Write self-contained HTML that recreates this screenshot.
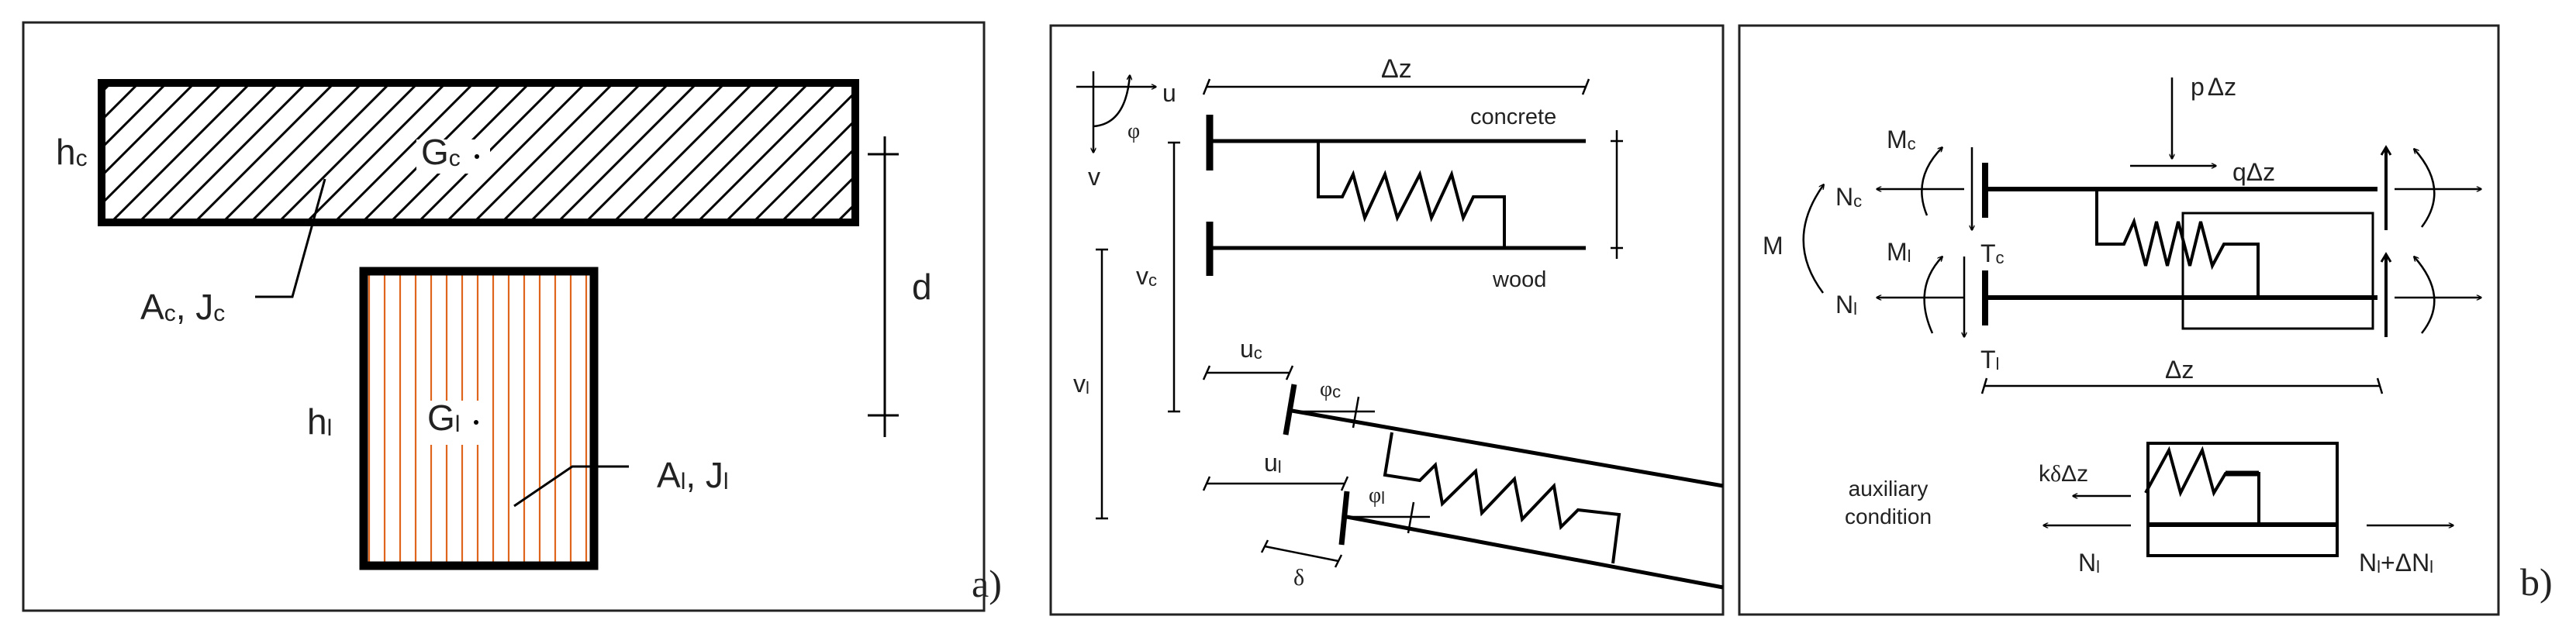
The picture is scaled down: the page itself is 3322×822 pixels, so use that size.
<!DOCTYPE html>
<html><head><meta charset="utf-8"><style>
html,body{margin:0;padding:0;background:#fff;}
svg{display:block;}
text{font-family:"Liberation Sans",sans-serif;fill:#222;}
.s{font-family:"Liberation Serif",serif;}
</style></head><body>
<svg width="3322" height="822" viewBox="0 0 3322 822" xmlns="http://www.w3.org/2000/svg">
<defs>
<marker id="ah" viewBox="0 0 10 10" refX="9" refY="5" markerWidth="7" markerHeight="7" markerUnits="userSpaceOnUse" orient="auto"><path d="M0,0 L10,5 L0,10" fill="none" stroke="#000" stroke-width="2"/></marker>
<clipPath id="cc"><rect x="136" y="112" width="962" height="170"/></clipPath>
<clipPath id="cw"><rect x="469" y="350" width="297" height="380"/></clipPath>
</defs>

<!-- Panel 1 -->
<rect x="30" y="29" width="1239" height="759" fill="none" stroke="#222" stroke-width="3"/>
<g clip-path="url(#cc)" stroke="#000" stroke-width="3" fill="none">
<path d="M-60,310 L140,110 M-24,310 L176,110 M12,310 L212,110 M48,310 L248,110 M84,310 L284,110 M120,310 L320,110 M156,310 L356,110 M192,310 L392,110 M228,310 L428,110 M264,310 L464,110 M300,310 L500,110 M336,310 L536,110 M372,310 L572,110 M408,310 L608,110 M444,310 L644,110 M480,310 L680,110 M516,310 L716,110 M552,310 L752,110 M588,310 L788,110 M624,310 L824,110 M660,310 L860,110 M696,310 L896,110 M732,310 L932,110 M768,310 L968,110 M804,310 L1004,110 M840,310 L1040,110 M876,310 L1076,110 M912,310 L1112,110 M948,310 L1148,110 M984,310 L1184,110 M1020,310 L1220,110 M1056,310 L1256,110 M1092,310 L1292,110"/>
</g>
<rect x="537" y="180" width="95" height="44" fill="#fff"/>
<rect x="131" y="107" width="972" height="180" fill="none" stroke="#000" stroke-width="10"/>
<g clip-path="url(#cw)" stroke="#e0651c" stroke-width="2.2">
<path d="M476,350V735 M496,350V735 M516,350V735 M536,350V735 M556,350V735 M576,350V735 M596,350V735 M616,350V735 M636,350V735 M656,350V735 M676,350V735 M696,350V735 M716,350V735 M736,350V735 M756,350V735"/>
</g>
<rect x="539" y="517" width="83" height="57" fill="#fff"/>
<rect x="469" y="350" width="297" height="380" fill="none" stroke="#000" stroke-width="11"/>
<text x="72" y="212" font-size="46">h<tspan font-size="30" dy="2">c</tspan></text>
<text x="543" y="212" font-size="46">G<tspan font-size="30" dy="2">c</tspan></text>
<circle cx="615" cy="202" r="3" fill="#000"/>
<path d="M419,231 L377,383 L329,383" fill="none" stroke="#000" stroke-width="3"/>
<text x="181" y="412" font-size="46">A<tspan font-size="30" dy="2">c</tspan><tspan dy="-2">, J</tspan><tspan font-size="30" dy="2">c</tspan></text>
<path d="M1141,176V564 M1119,199H1159 M1119,536H1159" stroke="#000" stroke-width="3"/>
<text x="1176" y="386" font-size="46">d</text>
<text x="396" y="560" font-size="46">h<tspan font-size="30" dy="2">l</tspan></text>
<text x="551" y="555" font-size="46">G<tspan font-size="30" dy="2">l</tspan></text>
<circle cx="614" cy="545" r="3" fill="#000"/>
<path d="M663,653 L738,602 L811,602" fill="none" stroke="#000" stroke-width="3"/>
<text x="847" y="629" font-size="46">A<tspan font-size="30" dy="2">l</tspan><tspan dy="-2">, J</tspan><tspan font-size="30" dy="2">l</tspan></text>
<text x="1253" y="770" font-size="50" class="s">a)</text>

<!-- Panel 2 -->
<rect x="1355" y="33" width="867" height="760" fill="none" stroke="#222" stroke-width="3"/>
<g stroke="#000" fill="none" stroke-width="2.5">
<path d="M1388,112H1491" marker-end="url(#ah)"/>
<path d="M1410,92V197" marker-end="url(#ah)"/>
<path d="M1410,163 Q1452,160 1457,97" marker-end="url(#ah)"/>
<path d="M1556,112H2045 M1552,122L1560,102 M2041,122L2049,102"/>
<path d="M2085,168V334 M2077,182H2093 M2077,320H2093"/>
<path d="M1514,184V531 M1506,184H1522 M1506,531H1522"/>
<path d="M1421,322V669 M1413,322H1429 M1413,669H1429"/>
<path d="M1556,481H1663 M1552,490L1560,472 M1659,490L1667,472"/>
<path d="M1556,624H1734 M1552,633L1560,615 M1730,633L1738,615"/>
<path d="M1631,705L1726,724 M1627,713L1635,697 M1722,732L1730,716"/>
<path d="M1666,531H1773 M1752,512L1745,552"/>
<path d="M1737,667H1844 M1823,648L1816,688"/>
</g>
<g stroke="#000" fill="none" stroke-width="4">
<path d="M1700,182V254H1731L1745,225L1760,281L1786,225L1802,281L1831,225L1846,281L1872,225L1887,281L1900,254H1940V320"/>
<path d="M1795,558L1786,613L1831,620L1851,600L1860,650L1903,608L1911,662L1953,618L1963,670L2004,627L2013,680L2035,658L2088,664L2080,727"/>
</g>
<g stroke="#000" fill="none">
<path d="M1560,148V220 M1560,286V356" stroke-width="9"/>
<path d="M1560,182H2045 M1560,320H2045" stroke-width="5"/>
<path d="M1669,496L1658,561 M1737,634L1730,703" stroke-width="7"/>
<path d="M1666,530L2222,627 M1737,667L2222,758" stroke-width="5"/>
</g>
<text x="1781" y="100" font-size="34">Δz</text>
<text x="1499" y="131" font-size="32">u</text>
<text x="1403" y="239" font-size="32">v</text>
<text x="1454" y="178" font-size="28" class="s">φ</text>
<text x="1896" y="160" font-size="29">concrete</text>
<text x="1925" y="370" font-size="29">wood</text>
<text x="1465" y="367" font-size="32">v<tspan font-size="22" dy="2">c</tspan></text>
<text x="1384" y="506" font-size="32">v<tspan font-size="22" dy="2">l</tspan></text>
<text x="1599" y="461" font-size="32">u<tspan font-size="22" dy="2">c</tspan></text>
<text x="1630" y="608" font-size="32">u<tspan font-size="22" dy="2">l</tspan></text>
<text x="1702" y="511" font-size="28" class="s">φ<tspan font-family="Liberation Sans" font-size="22" dy="2">c</tspan></text>
<text x="1765" y="648" font-size="28" class="s">φ<tspan font-family="Liberation Sans" font-size="22" dy="2">l</tspan></text>
<text x="1668" y="755" font-size="30" class="s">δ</text>

<!-- Panel 3 -->
<rect x="2243" y="33" width="979" height="760" fill="none" stroke="#222" stroke-width="3"/>
<g stroke="#000" fill="none" stroke-width="2.5">
<path d="M2801,100V205" marker-end="url(#ah)"/>
<path d="M2747,214H2858" marker-end="url(#ah)"/>
<path d="M2533,244H2420" marker-end="url(#ah)"/>
<path d="M2533,384H2420" marker-end="url(#ah)"/>
<path d="M2543,190V297" marker-end="url(#ah)"/>
<path d="M2533,331V435" marker-end="url(#ah)"/>
<path d="M2485,278 Q2465,230 2505,190" marker-end="url(#ah)"/>
<path d="M2492,430 Q2466,372 2505,331" marker-end="url(#ah)"/>
<path d="M2351,378 Q2300,310 2352,238" marker-end="url(#ah)"/>
<path d="M3088,244H3200" marker-end="url(#ah)"/>
<path d="M3088,384H3200" marker-end="url(#ah)"/>
<path d="M3123,293 Q3160,244 3113,192" marker-end="url(#ah)"/>
<path d="M3123,430 Q3160,384 3113,331" marker-end="url(#ah)"/>
<path d="M2560,498H3070 M2556,508L2562,488"/>
<path d="M2748,640H2673" marker-end="url(#ah)"/>
<path d="M2748,678H2635" marker-end="url(#ah)"/>
<path d="M3052,678H3164" marker-end="url(#ah)"/>
<rect x="2815" y="275" width="245" height="149" stroke-width="3"/>
<rect x="2770" y="572" width="244" height="145" stroke-width="4"/>
</g>
<path d="M3066,488L3072,508" stroke="#000" stroke-width="2.5"/>
<g stroke="#000" fill="none">
<path d="M3077,297V190 M3077,435V328" stroke-width="4"/>
<path d="M3071,200L3077,190L3083,200 M3071,338L3077,328L3083,338" stroke-width="3"/>
<path d="M2560,210V281 M2560,349V420" stroke-width="8"/>
<path d="M2560,244H3066 M2560,384H3066" stroke-width="6"/>
<path d="M2704,244V315H2739L2752,286L2767,343L2781,286L2795,343L2809,286L2824,343L2838,286L2853,343L2868,315H2912V384" stroke-width="4"/>
<path d="M2770,677H3014" stroke-width="6"/>
<path d="M2767,636L2797,581L2812,636L2840,581L2855,636L2870,611H2913V677" stroke-width="4"/>
<path d="M2870,611H2913" stroke-width="7"/>
</g>
<text x="2825" y="123" font-size="32">p<tspan dx="4">Δz</tspan></text>
<text x="2879" y="233" font-size="32">q<tspan>Δz</tspan></text>
<text x="2433" y="191" font-size="32">M<tspan font-size="22" dy="2">c</tspan></text>
<text x="2367" y="265" font-size="32">N<tspan font-size="22" dy="2">c</tspan></text>
<text x="2273" y="328" font-size="32">M</text>
<text x="2433" y="336" font-size="32">M<tspan font-size="22" dy="2">l</tspan></text>
<text x="2554" y="338" font-size="32">T<tspan font-size="22" dy="2">c</tspan></text>
<text x="2367" y="404" font-size="32">N<tspan font-size="22" dy="2">l</tspan></text>
<text x="2554" y="475" font-size="32">T<tspan font-size="22" dy="2">l</tspan></text>
<text x="2792" y="488" font-size="32">Δz</text>
<text x="2435" y="640" font-size="28" text-anchor="middle">auxiliary</text>
<text x="2435" y="676" font-size="28" text-anchor="middle">condition</text>
<text x="2629" y="621" font-size="30">k<tspan class="s">δ</tspan>Δz</text>
<text x="2680" y="737" font-size="32">N<tspan font-size="22" dy="2">l</tspan></text>
<text x="3042" y="737" font-size="32">N<tspan font-size="22" dy="2">l</tspan><tspan dy="-2">+ΔN</tspan><tspan font-size="22" dy="2">l</tspan></text>
<text x="3250" y="768" font-size="50" class="s">b)</text>
</svg>
</body></html>
